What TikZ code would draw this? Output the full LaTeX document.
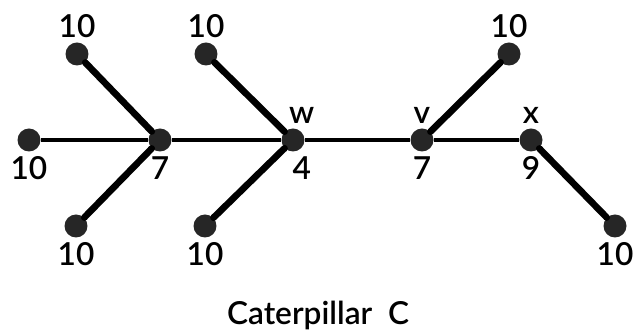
\documentclass[tikz,border=0pt]{standalone}
\usepackage{fontspec}
\setmainfont{Lato}[BoldFont={Lato Semibold}]
\usetikzlibrary{positioning}

\begin{document}
\begin{tikzpicture}[x=0.02cm,y=0.02cm,font=\fontsize{18}{21}\selectfont\bfseries,
  vert/.style={circle,fill=black!85,minimum size=0.46cm,inner sep=0pt},
  every label/.style={inner sep=1pt},label distance=1.5pt,
  leg/.style={line width=3.8pt,line cap=round},
  spine/.style={line width=2.4pt}]
\useasboundingbox (0,0) rectangle (636,334);
\node[vert,label=above:10] (t1) at (77,280) {};
\node[vert,label=below:10] (l1) at (29,194) {};
\node[vert,label=below:10] (b1) at (76,108) {};
\node[vert,label=below:7] (a) at (160,194) {};
\node[vert,label=above:10] (t2) at (206,280) {};
\node[vert,label=below:10] (b2) at (205,108) {};
\node[vert,label={[xshift=5pt]above:w},label={[xshift=5pt]below:4}] (w) at (293,194) {};
\node[vert,label=above:v,label=below:7] (v) at (422,194) {};
\node[vert,label=above:10] (t3) at (509,280) {};
\node[vert,label=above:x,label=below:9] (x) at (531,194) {};
\node[vert,label=below:10] (b3) at (615,108) {};
\draw[spine] (l1)--(a); \draw[spine] (a)--(w); \draw[spine] (w)--(v); \draw[spine] (v)--(x);
\draw[leg] (t1)--(a); \draw[leg] (b1)--(a); \draw[leg] (t2)--(w); \draw[leg] (b2)--(w);
\draw[leg] (t3)--(v); \draw[leg] (x)--(b3);
\node (cap) at (318,19) {Caterpillar\ \ C};
\end{tikzpicture}
\end{document}
